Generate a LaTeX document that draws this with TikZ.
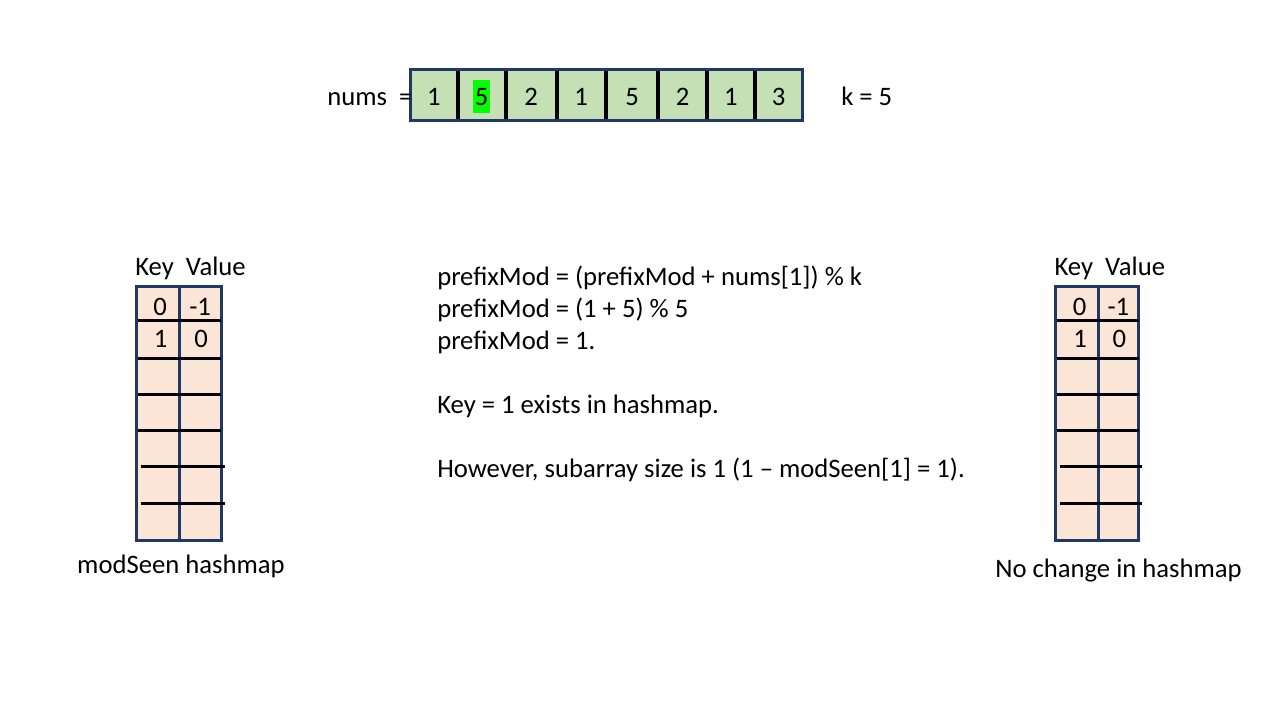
\documentclass[tikz,border=0pt]{standalone}
\usepackage{fontspec}
\setmainfont{Carlito}
\usetikzlibrary{positioning}
\definecolor{framenavy}{HTML}{1F3864}
\definecolor{numsfill}{HTML}{C5E0B4}
\definecolor{mapfill}{HTML}{FBE5D6}
\definecolor{hlgreen}{HTML}{00FF00}
\begin{document}
\begin{tikzpicture}[x=0.75pt,y=-0.75pt,
    big/.style={inner sep=0pt,font=\fontsize{20}{24}\selectfont},
    hl/.style={big,fill=hlgreen,inner xsep=1.5pt,text height=19.2pt,text depth=5.2pt},
    frame/.style={draw=framenavy,line width=2.25pt},
    bar/.style={black,line width=3pt},
    row/.style={black,line width=2.25pt}]
\useasboundingbox (0,0) rectangle (1280,720);
\fill[numsfill] (410.5,70) rectangle (802,120.5);
\foreach \x in {457.7,505.7,556.7,605.7,658.3,706.7,755}
  \draw[bar] (\x,70) -- (\x,120.5);
\draw[frame] (410.5,70) rectangle (802,120.5);
\foreach \x/\v/\s [count=\i] in {434/1/big,481.7/5/hl,531.2/2/big,581.2/1/big,632/5/big,682.5/2/big,730.8/1/big,778.5/3/big}
  \node[\s,anchor=base] (n\i) at (\x,105.7) {\v};
\node[big,anchor=base west] (numslbl) at (327,105.7) {nums~~=};
\node[big,anchor=base west] (klbl) at (841,105.7) {k = 5};
\foreach \t/\x/\d/\e in {L/136.5/179/221.2,R/1055.8/1098.3/1138.5}{
  \fill[mapfill] (\x,286.5) rectangle (\e,540.2);
  \draw[frame] (\d,286.5) -- (\d,540.2);
  \draw[frame] (\x,286.5) rectangle (\e,540.2);
  \foreach \y in {320.3,358.3,394,430.3}
    \draw[row] (\x+1,\y) -- (\e,\y);
  \foreach \y in {466.7,503.3}
    \draw[row] (\x+4,\y) -- (\e+3.5,\y);
  \node[big,anchor=base west] (head\t) at (\x-1.5,275) {Key~~Value};
  \node[big,anchor=base] (k1\t) at ({(\x+\d)/2+2.5},315) {0};
  \node[big,anchor=base] (v1\t) at ({(\d+\e)/2},315) {-1};
  \node[big,anchor=base] (k2\t) at ({(\x+\d)/2+3},347) {1};
  \node[big,anchor=base] (v2\t) at ({(\d+\e)/2+1},347) {0};
}
\node[big,anchor=base] (mapL) at (181,573) {modSeen hashmap};
\node[big,anchor=base] (mapR) at (1118.5,577) {No change in hashmap};
\node[big,anchor=base west,align=left] (steps) at (437,477)
  {prefixMod = (prefixMod + nums[1]) \% k\\
   prefixMod = (1 + 5) \% 5\\
   prefixMod = 1.\\[24pt]
   Key = 1 exists in hashmap.\\[24pt]
   However, subarray size is 1 (1 – modSeen[1] = 1).};
\end{tikzpicture}
\end{document}
